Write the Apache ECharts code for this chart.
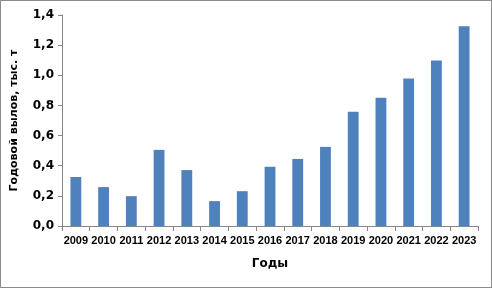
<!DOCTYPE html>
<html><head><meta charset="utf-8">
<script src="https://cdn.jsdelivr.net/npm/echarts@6/dist/echarts.min.js"></script>
<style>html,body{margin:0;padding:0;background:#fff}#c{width:490px;height:286px;border:1px solid #8c8c8c}</style>
</head><body><div id="c"></div>
<script>
const years = ['2009','2010','2011','2012','2013','2014','2015','2016','2017','2018','2019','2020','2021','2022','2023'];
const catch_ = [0.325,0.258,0.198,0.505,0.371,0.165,0.231,0.393,0.445,0.525,0.758,0.851,0.978,1.098,1.325];
const yTicks = [0,0.2,0.4,0.6,0.8,1.0,1.2,1.4];
const chart = echarts.init(document.getElementById('c'));
const font = 'DejaVu Sans';
chart.setOption({
  animation:false,
  grid:{left:57,right:13,top:14,bottom:61},
  xAxis:{type:'category',data:years,
    name:'Годы',nameLocation:'middle',nameGap:32,
    nameTextStyle:{fontFamily:font,fontWeight:'bold',fontSize:12,color:'#000'},
    axisLine:{lineStyle:{color:'#868686'}},
    axisTick:{show:true,length:5,lineStyle:{color:'#868686'}},
    axisLabel:{fontFamily:'Liberation Sans',fontWeight:'bold',fontSize:11,color:'#000',margin:9,interval:0}},
  yAxis:{type:'value',min:0,max:1.4,interval:0.2,
    name:'Годовой вылов, тыс. т',nameLocation:'middle',nameGap:42,
    nameTextStyle:{fontFamily:font,fontWeight:'bold',fontSize:11,color:'#000'},
    axisLine:{show:true,lineStyle:{color:'#868686'}},
    axisTick:{show:true,length:4,lineStyle:{color:'#868686'}},
    splitLine:{show:false},
    axisLabel:{fontFamily:font,fontWeight:'bold',fontSize:12,color:'#000',margin:8,
      formatter:v=>{const t=yTicks.find(x=>Math.abs(x-v)<1e-9);return (t!==undefined?t:v).toFixed(1).replace('.',',');}}},
  series:[{type:'bar',data:catch_,barWidth:'39%',itemStyle:{color:'#4f81bd'}}]
});
</script></body></html>
